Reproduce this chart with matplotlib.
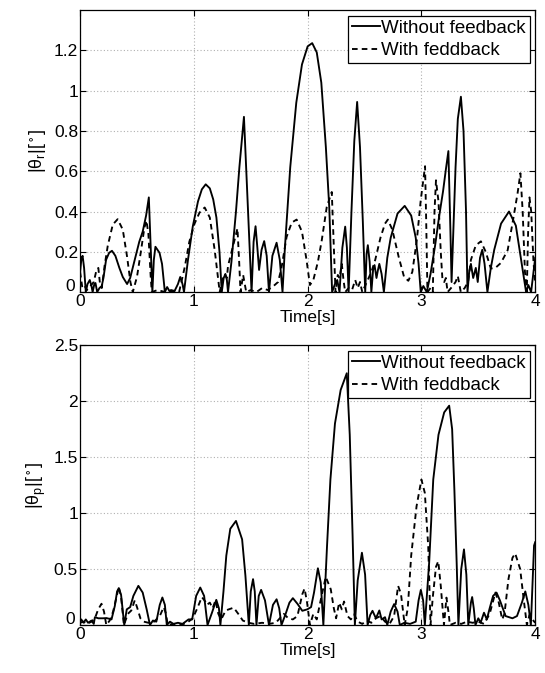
import matplotlib
matplotlib.use("Agg")
import matplotlib.pyplot as plt
from matplotlib.transforms import ScaledTranslation

# ---------------- data (time [s], |angle| [deg]) ----------------
roll_without = [
    (0.000, 0.10), (0.012, 0.17), (0.022, 0.18), (0.035, 0.12), (0.050, 0.00), (0.065, 0.04),
    (0.085, 0.06), (0.100, 0.03), (0.110, 0.00), (0.125, 0.04), (0.135, 0.045), (0.150, 0.00),
    (0.170, 0.02), (0.190, 0.03), (0.205, 0.07), (0.228, 0.16), (0.255, 0.195), (0.280, 0.205),
    (0.310, 0.18), (0.345, 0.12), (0.375, 0.075), (0.413, 0.04), (0.440, 0.07), (0.480, 0.16),
    (0.520, 0.25), (0.550, 0.30), (0.580, 0.38), (0.604, 0.47), (0.615, 0.30), (0.635, 0.00),
    (0.648, 0.16), (0.662, 0.225), (0.680, 0.21), (0.698, 0.195), (0.720, 0.14), (0.745, 0.00),
    (0.765, 0.025), (0.785, 0.005), (0.830, 0.005), (0.860, 0.04), (0.880, 0.075), (0.900, 0.04),
    (0.913, 0.00), (0.948, 0.16), (0.990, 0.325), (1.036, 0.45), (1.070, 0.51), (1.104, 0.535),
    (1.140, 0.515), (1.170, 0.46), (1.198, 0.37), (1.225, 0.20), (1.245, 0.00), (1.262, 0.07),
    (1.277, 0.09), (1.290, 0.06), (1.300, 0.00), (1.330, 0.15), (1.370, 0.40), (1.400, 0.62),
    (1.440, 0.87), (1.465, 0.55), (1.490, 0.22), (1.507, 0.00), (1.525, 0.25), (1.542, 0.327),
    (1.558, 0.22), (1.573, 0.11), (1.595, 0.21), (1.618, 0.253), (1.640, 0.18), (1.660, 0.00),
    (1.690, 0.18), (1.727, 0.245), (1.755, 0.16), (1.779, 0.00), (1.800, 0.22), (1.847, 0.62),
    (1.900, 0.94), (1.950, 1.13), (2.000, 1.22), (2.040, 1.236), (2.080, 1.19), (2.120, 1.04),
    (2.160, 0.72), (2.190, 0.42), (2.215, 0.00), (2.240, 0.04), (2.260, 0.06), (2.280, 0.00),
    (2.305, 0.22), (2.330, 0.325), (2.345, 0.22), (2.360, 0.00), (2.385, 0.40), (2.410, 0.75),
    (2.435, 0.944), (2.460, 0.72), (2.485, 0.35), (2.506, 0.00), (2.518, 0.19), (2.529, 0.233),
    (2.545, 0.15), (2.560, 0.00), (2.575, 0.11), (2.588, 0.134), (2.605, 0.07), (2.618, 0.11),
    (2.630, 0.14), (2.650, 0.09), (2.670, 0.00), (2.700, 0.17), (2.730, 0.27), (2.790, 0.39),
    (2.853, 0.428), (2.910, 0.38), (2.950, 0.27), (2.975, 0.14), (2.994, 0.00), (3.017, 0.03),
    (3.047, 0.00), (3.080, 0.09), (3.120, 0.23), (3.155, 0.373), (3.190, 0.50), (3.214, 0.605),
    (3.237, 0.70), (3.255, 0.30), (3.265, 0.05), (3.280, 0.30), (3.300, 0.62), (3.320, 0.86),
    (3.347, 0.97), (3.370, 0.80), (3.392, 0.40), (3.405, 0.00), (3.420, 0.10), (3.435, 0.14),
    (3.455, 0.07), (3.478, 0.12), (3.495, 0.05), (3.515, 0.17), (3.535, 0.21), (3.555, 0.14),
    (3.580, 0.00), (3.610, 0.12), (3.640, 0.21), (3.700, 0.34), (3.770, 0.40), (3.830, 0.33),
    (3.876, 0.16), (3.920, 0.00), (3.940, 0.035), (3.964, 0.00), (3.985, 0.10), (4.000, 0.17),
]

roll_with = [
    (0.000, 0.10), (0.020, 0.02), (0.040, 0.03), (0.060, 0.01), (0.090, 0.03), (0.120, 0.05),
    (0.140, 0.10), (0.160, 0.12), (0.175, 0.04), (0.190, 0.02), (0.215, 0.13), (0.243, 0.23),
    (0.287, 0.335), (0.330, 0.362), (0.375, 0.31), (0.413, 0.175), (0.442, 0.05), (0.463, 0.00),
    (0.500, 0.076), (0.536, 0.208), (0.565, 0.32), (0.583, 0.355), (0.600, 0.29), (0.620, 0.08),
    (0.630, 0.00), (0.680, 0.01), (0.750, 0.00), (0.800, 0.01), (0.870, 0.00), (0.920, 0.125),
    (0.960, 0.25), (1.006, 0.34), (1.050, 0.395), (1.095, 0.42), (1.140, 0.37), (1.183, 0.208),
    (1.227, 0.00), (1.250, 0.06), (1.270, 0.09), (1.290, 0.07), (1.300, 0.13), (1.340, 0.22),
    (1.383, 0.316), (1.398, 0.15), (1.410, 0.00), (1.433, 0.085), (1.460, 0.00), (1.500, 0.01),
    (1.550, 0.00), (1.600, 0.02), (1.650, 0.01), (1.700, 0.03), (1.740, 0.05), (1.770, 0.12),
    (1.815, 0.274), (1.860, 0.345), (1.903, 0.36), (1.950, 0.30), (1.990, 0.16), (2.020, 0.035),
    (2.050, 0.06), (2.090, 0.15), (2.124, 0.257), (2.168, 0.423), (2.212, 0.497), (2.232, 0.20),
    (2.245, 0.00), (2.265, 0.085), (2.280, 0.07), (2.300, 0.14), (2.315, 0.06), (2.330, 0.00),
    (2.360, 0.02), (2.390, 0.01), (2.418, 0.06), (2.440, 0.02), (2.460, 0.05), (2.480, 0.00),
    (2.520, 0.05), (2.560, 0.10), (2.594, 0.16), (2.640, 0.27), (2.680, 0.34), (2.705, 0.36),
    (2.744, 0.31), (2.800, 0.175), (2.847, 0.076), (2.885, 0.056), (2.920, 0.10), (2.960, 0.26),
    (2.994, 0.456), (3.032, 0.625), (3.042, 0.35), (3.053, 0.00), (3.080, 0.02), (3.100, 0.00),
    (3.115, 0.40), (3.128, 0.555), (3.150, 0.45), (3.170, 0.20), (3.185, 0.06), (3.200, 0.05),
    (3.215, 0.07), (3.230, 0.00), (3.260, 0.02), (3.300, 0.05), (3.320, 0.08), (3.346, 0.00),
    (3.380, 0.02), (3.410, 0.05), (3.435, 0.16), (3.478, 0.232), (3.523, 0.252), (3.565, 0.20),
    (3.610, 0.117), (3.650, 0.12), (3.699, 0.145), (3.758, 0.208), (3.800, 0.34), (3.845, 0.49),
    (3.870, 0.59), (3.890, 0.40), (3.910, 0.10), (3.926, 0.00), (3.938, 0.30), (3.950, 0.47),
    (3.965, 0.40), (3.985, 0.15), (4.000, 0.04),
]

pitch_without = [
    (0.000, 0.03), (0.010, 0.05), (0.030, 0.02), (0.050, 0.05), (0.070, 0.02), (0.100, 0.04),
    (0.120, 0.01), (0.130, 0.07), (0.160, 0.06), (0.200, 0.06), (0.232, 0.062), (0.276, 0.05),
    (0.305, 0.17), (0.325, 0.30), (0.340, 0.33), (0.360, 0.27), (0.388, 0.00), (0.410, 0.14),
    (0.440, 0.16), (0.468, 0.26), (0.512, 0.35), (0.550, 0.29), (0.585, 0.14), (0.614, 0.00),
    (0.640, 0.04), (0.670, 0.03), (0.700, 0.18), (0.723, 0.246), (0.745, 0.18), (0.762, 0.00),
    (0.790, 0.03), (0.820, 0.01), (0.860, 0.02), (0.900, 0.01), (0.953, 0.05), (0.985, 0.05),
    (1.020, 0.26), (1.056, 0.335), (1.090, 0.26), (1.120, 0.00), (1.159, 0.11), (1.197, 0.225),
    (1.220, 0.15), (1.233, 0.00), (1.260, 0.30), (1.285, 0.62), (1.320, 0.86), (1.370, 0.93),
    (1.424, 0.765), (1.453, 0.44), (1.483, 0.00), (1.500, 0.30), (1.520, 0.41), (1.535, 0.30),
    (1.550, 0.00), (1.570, 0.26), (1.591, 0.314), (1.625, 0.22), (1.660, 0.00), (1.695, 0.18),
    (1.727, 0.23), (1.750, 0.15), (1.770, 0.00), (1.806, 0.098), (1.840, 0.20), (1.870, 0.24),
    (1.910, 0.19), (1.953, 0.127), (1.997, 0.14), (2.030, 0.16), (2.056, 0.29), (2.090, 0.507),
    (2.115, 0.38), (2.138, 0.00), (2.170, 0.70), (2.200, 1.30), (2.240, 1.80), (2.290, 2.10),
    (2.344, 2.25), (2.370, 1.70), (2.395, 0.80), (2.415, 0.00), (2.440, 0.40), (2.477, 0.646),
    (2.505, 0.45), (2.527, 0.00), (2.550, 0.09), (2.570, 0.127), (2.600, 0.06), (2.630, 0.13),
    (2.650, 0.05), (2.680, 0.07), (2.700, 0.00), (2.730, 0.12), (2.760, 0.187), (2.790, 0.12),
    (2.810, 0.00), (2.850, 0.02), (2.900, 0.01), (2.950, 0.03), (2.975, 0.22), (2.995, 0.314),
    (3.015, 0.22), (3.030, 0.00), (3.068, 0.557), (3.104, 1.30), (3.150, 1.70), (3.200, 1.90),
    (3.244, 1.96), (3.270, 1.75), (3.290, 1.20), (3.310, 0.55), (3.325, 0.00), (3.350, 0.50),
    (3.374, 0.676), (3.395, 0.45), (3.412, 0.00), (3.435, 0.20), (3.446, 0.25), (3.460, 0.15),
    (3.475, 0.00), (3.500, 0.06), (3.520, 0.02), (3.550, 0.11), (3.575, 0.05), (3.600, 0.15),
    (3.630, 0.26), (3.660, 0.29), (3.690, 0.22), (3.740, 0.08), (3.800, 0.06), (3.840, 0.08),
    (3.883, 0.20), (3.913, 0.30), (3.940, 0.18), (3.962, 0.00), (3.990, 0.71), (4.000, 0.74),
]

pitch_with = [
    (0.000, 0.02), (0.030, 0.03), (0.060, 0.01), (0.100, 0.03), (0.130, 0.06), (0.159, 0.14),
    (0.188, 0.19), (0.210, 0.12), (0.230, 0.00), (0.260, 0.04), (0.290, 0.12), (0.320, 0.25),
    (0.340, 0.34), (0.360, 0.25), (0.385, 0.00), (0.420, 0.10), (0.450, 0.13), (0.480, 0.22),
    (0.500, 0.16), (0.530, 0.06), (0.560, 0.03), (0.600, 0.02), (0.650, 0.03), (0.700, 0.08),
    (0.735, 0.16), (0.755, 0.10), (0.770, 0.00), (0.820, 0.01), (0.880, 0.00), (0.940, 0.02),
    (0.990, 0.06), (1.030, 0.15), (1.070, 0.25), (1.100, 0.21), (1.114, 0.18), (1.140, 0.20),
    (1.165, 0.15), (1.190, 0.22), (1.215, 0.10), (1.240, 0.05), (1.280, 0.13), (1.307, 0.14),
    (1.350, 0.155), (1.390, 0.10), (1.430, 0.04), (1.480, 0.02), (1.530, 0.01), (1.600, 0.02),
    (1.660, 0.01), (1.720, 0.02), (1.790, 0.10), (1.830, 0.06), (1.870, 0.05), (1.910, 0.08),
    (1.953, 0.275), (1.973, 0.326), (1.995, 0.20), (2.020, 0.00), (2.050, 0.10), (2.080, 0.05),
    (2.110, 0.20), (2.159, 0.43), (2.203, 0.32), (2.230, 0.15), (2.250, 0.06), (2.277, 0.20),
    (2.300, 0.14), (2.320, 0.21), (2.350, 0.08), (2.380, 0.05), (2.409, 0.095), (2.440, 0.03),
    (2.480, 0.01), (2.520, 0.04), (2.560, 0.02), (2.600, 0.06), (2.640, 0.08), (2.680, 0.03),
    (2.720, 0.01), (2.760, 0.08), (2.795, 0.35), (2.820, 0.28), (2.853, 0.00), (2.880, 0.15),
    (2.910, 0.62), (2.957, 1.06), (3.000, 1.30), (3.030, 1.18), (3.060, 0.70), (3.080, 0.00),
    (3.100, 0.25), (3.128, 0.52), (3.148, 0.57), (3.170, 0.35), (3.198, 0.00), (3.220, 0.245),
    (3.240, 0.10), (3.250, 0.00), (3.300, 0.02), (3.350, 0.01), (3.400, 0.03), (3.450, 0.02),
    (3.500, 0.03), (3.550, 0.01), (3.600, 0.10), (3.650, 0.29), (3.680, 0.20), (3.710, 0.05),
    (3.730, 0.10), (3.765, 0.41), (3.800, 0.60), (3.824, 0.64), (3.868, 0.50), (3.900, 0.22),
    (3.927, 0.00), (3.950, 0.09), (3.975, 0.05), (4.000, 0.02),
]

x_ticks = [0, 1, 2, 3, 4]
x_tick_labels = ["0", "1", "2", "3", "4"]
top_y_ticks = [0, 0.2, 0.4, 0.6, 0.8, 1.0, 1.2]
top_y_labels = ["0", "0.2", "0.4", "0.6", "0.8", "1", "1.2"]
bot_y_ticks = [0, 0.5, 1.0, 1.5, 2.0, 2.5]
bot_y_labels = ["0", "0.5", "1", "1.5", "2", "2.5"]
legend_labels = ["Without feedback", "With feddback"]

# ---------------- style ----------------
plt.rcParams["font.family"] = ["Liberation Sans", "DejaVu Sans"]
plt.rcParams["mathtext.fontset"] = "custom"
plt.rcParams["mathtext.rm"] = "Liberation Sans"
plt.rcParams["mathtext.it"] = "Liberation Sans"
plt.rcParams["mathtext.default"] = "regular"

fig = plt.figure(figsize=(5.45, 6.73), dpi=100)
fig.patch.set_facecolor("white")

L, R = 0.147, 0.982
ax1 = fig.add_axes([L, 0.566, R - L, 0.985 - 0.566])
ax2 = fig.add_axes([L, 0.0713, R - L, 0.487 - 0.0713])


def draw(ax, s_without, s_with, yticks, ylabels, ylim, ylabel):
    t1 = [p[0] for p in s_without]
    v1 = [p[1] for p in s_without]
    t2 = [p[0] for p in s_with]
    v2 = [p[1] for p in s_with]
    ax.plot(t1, v1, color="black", lw=1.35, ls="-", label=legend_labels[0], zorder=3)
    ax.plot(t2, v2, color="black", lw=1.35, ls=(0, (3.0, 2.2)), label=legend_labels[1], zorder=3)
    ax.set_xlim(0, 4)
    ax.set_ylim(*ylim)
    ax.set_xticks(x_ticks)
    ax.set_xticklabels(x_tick_labels)
    ax.set_yticks(yticks)
    ax.set_yticklabels(ylabels)
    ax.grid(True, color="#b0b0b0", ls=(0, (1, 2)), lw=0.8)
    ax.tick_params(direction="in", top=True, right=True, length=4, width=0.8,
                   labelsize=12.5, pad=1.5, colors="black")
    # MATLAB-style corner: lift the y "0" slightly so it sits just above the x "0"
    lab0 = ax.get_yticklabels()[0]
    lab0.set_transform(lab0.get_transform() + ScaledTranslation(-2 / 72, 5 / 72, fig.dpi_scale_trans))
    for sp in ax.spines.values():
        sp.set_linewidth(0.9)
        sp.set_color("black")
    ax.set_xlabel("Time[s]", fontsize=12.5, labelpad=0.5)
    ax.set_ylabel(ylabel, fontsize=13, labelpad=4)
    leg = ax.legend(loc="upper right", fontsize=13.5, frameon=True, fancybox=False,
                    edgecolor="black", framealpha=1, borderpad=0.2, labelspacing=0.3,
                    handlelength=1.5, handletextpad=0.05, borderaxespad=0.3)
    leg.get_frame().set_linewidth(0.9)


draw(ax1, roll_without, roll_with, top_y_ticks, top_y_labels, (0, 1.4),
     r"$|\theta_r|[^\circ]$")
draw(ax2, pitch_without, pitch_with, bot_y_ticks, bot_y_labels, (0, 2.5),
     r"$|\theta_p|[^\circ]$")

fig.savefig("out.png", dpi=100)
